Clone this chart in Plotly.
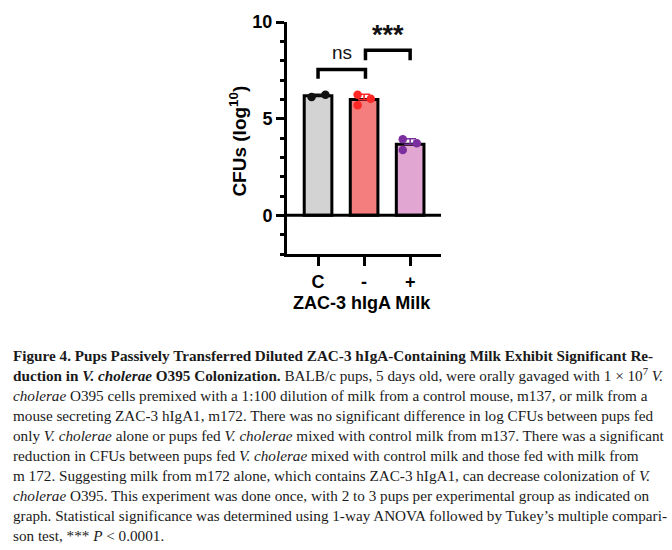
import numpy as np
import plotly.graph_objects as go

# ---------------- data ----------------
categories = ["C", "-", "+"]
c_points = [6.12, 6.24]
neg_points = [6.24, 6.03, 5.69]
pos_points = [3.93, 3.73, 3.38]
y_ticks = [0, 5, 10]
y_tick_labels = ["0", "5", "10"]
x_title = "ZAC-3 hIgA Milk"
y_title = "CFUs (log<sup>10</sup>)"
sig_labels = ["ns", "***"]

caption_lines = [
    "<b>Figure 4. Pups Passively Transferred Diluted ZAC-3 hIgA-Containing Milk Exhibit Significant Re-</b>",
    "<b>duction in <i>V. cholerae</i> O395 Colonization.</b> BALB/c pups, 5 days old, were orally gavaged with 1 × 10<sup>7</sup> <i>V.</i>",
    "<i>cholerae</i> O395 cells premixed with a 1:100 dilution of milk from a control mouse, m137, or milk from a",
    "mouse secreting ZAC-3 hIgA1, m172. There was no significant difference in log CFUs between pups fed",
    "only <i>V. cholerae</i> alone or pups fed <i>V. cholerae</i> mixed with control milk from m137. There was a significant",
    "reduction in CFUs between pups fed <i>V. cholerae</i> mixed with control milk and those fed with milk from",
    "m 172. Suggesting milk from m172 alone, which contains ZAC-3 hIgA1, can decrease colonization of <i>V.</i>",
    "<i>cholerae</i> O395. This experiment was done once, with 2 to 3 pups per experimental group as indicated on",
    "graph. Statistical significance was determined using 1-way ANOVA followed by Tukey’s multiple compari-",
    "son test, *** <i>P</i> &lt; 0.0001.",
]

# ---------------- styling / layout ----------------
W, H = 672, 550
L, R, T, B = 286.7, 231.3, 21.7, 296.3
PW, PH = W - L - R, H - T - B

groups = [c_points, neg_points, pos_points]
offsets = [[-0.14, 0.16], [-0.14, 0.145, -0.14], [-0.16, 0.145, -0.16]]
bar_fill = ["#d3d3d3", "#f47d7d", "#e2a6d3"]
pt_color = ["#111111", "#ff2626", "#7b2f9f"]

def px_x(px):
    return (px - L) / PW

def px_y(py):
    return ((H - B) - py) / PH

means = [float(np.mean(g)) for g in groups]
sds = [float(np.std(g, ddof=1)) for g in groups]
xpos = list(range(len(categories)))

fig = go.Figure()
fig.add_trace(go.Bar(
    x=xpos, y=means, width=0.6,
    marker=dict(color=bar_fill, line=dict(color="black", width=3)),
    showlegend=False, hoverinfo="skip",
))
for i, g in enumerate(groups):
    fig.add_trace(go.Scatter(
        x=[xpos[i]], y=[means[i]], mode="markers",
        marker=dict(size=1, color="rgba(0,0,0,0)"),
        error_y=dict(type="data", symmetric=False, array=[sds[i]], arrayminus=[0],
                     color=pt_color[i], thickness=1.6, width=6),
        showlegend=False, hoverinfo="skip",
    ))
    fig.add_trace(go.Scatter(
        x=[xpos[i] + o for o in offsets[i]], y=g, mode="markers",
        marker=dict(size=8.5, color=pt_color[i], line=dict(width=0)),
        showlegend=False,
    ))

# zero line
fig.add_shape(type="line", xref="x domain", yref="y", x0=0, x1=1, y0=0, y1=0,
              line=dict(color="black", width=3), layer="above")

# significance brackets
brackets = [
    dict(x0=0, x1=1.03, y=7.54, leg=7.07, label=sig_labels[0], ty=8.41,
         font=dict(family="Liberation Sans", size=19, color="#111")),
    dict(x0=1.03, x1=2.0, y=8.54, leg=8.02, label=sig_labels[1], ty=9.33,
         font=dict(family="Liberation Sans", size=27, color="#111", weight="bold")),
]
for br in brackets:
    fig.add_shape(type="path",
                  path=f"M {br['x0']},{br['leg']} L {br['x0']},{br['y']} L {br['x1']},{br['y']} L {br['x1']},{br['leg']}",
                  xref="x", yref="y", line=dict(color="black", width=3.5))
    fig.add_annotation(x=(br["x0"] + br["x1"]) / 2, y=br["ty"], xref="x", yref="y",
                       text=br["label"], showarrow=False, font=br["font"],
                       xanchor="center", yanchor="middle")

# axis titles
fig.add_annotation(x=px_x(238), y=px_y(141), xref="paper", yref="paper",
                   text=y_title, textangle=-90, showarrow=False,
                   font=dict(family="Liberation Sans", size=19, color="black", weight="bold"),
                   xanchor="center", yanchor="middle")
fig.add_annotation(x=px_x(362), y=px_y(303), xref="paper", yref="paper",
                   text=x_title, showarrow=False,
                   font=dict(family="Liberation Sans", size=18, color="black", weight="bold"),
                   xanchor="center", yanchor="middle")

# caption
for k, line in enumerate(caption_lines):
    fig.add_annotation(x=px_x(11), y=px_y(355 + 20 * k), xref="paper", yref="paper",
                       text=line, showarrow=False, align="left",
                       font=dict(family="Liberation Serif", size=15.2, color="#1a1a1a"),
                       xanchor="left", yanchor="middle")

fig.update_layout(
    width=W, height=H,
    margin=dict(l=L, r=R, t=T, b=B, pad=0),
    paper_bgcolor="white", plot_bgcolor="white",
    bargap=0.4,
    xaxis=dict(range=[-0.674, 2.67], tickvals=xpos, ticktext=categories,
               showline=True, linecolor="black", linewidth=3,
               ticks="outside", ticklen=9, tickwidth=3, tickcolor="black",
               tickfont=dict(family="Liberation Sans", size=18, color="black", weight="bold"),
               showgrid=False, zeroline=False, fixedrange=True),
    yaxis=dict(range=[-2, 10], tickvals=y_ticks, ticktext=y_tick_labels,
               showline=True, linecolor="black", linewidth=3,
               ticks="outside", ticklen=8, tickwidth=3, tickcolor="black",
               minor=dict(dtick=1, tick0=0, ticks="outside", ticklen=4, tickwidth=2.5,
                          tickcolor="black", showgrid=False),
               tickfont=dict(family="Liberation Sans", size=18, color="black", weight="bold"),
               showgrid=False, zeroline=False, fixedrange=True),
)

fig.write_html("out.html", config={"displayModeBar": False},
               post_script="document.body.style.margin='0';document.body.style.overflow='hidden';")
